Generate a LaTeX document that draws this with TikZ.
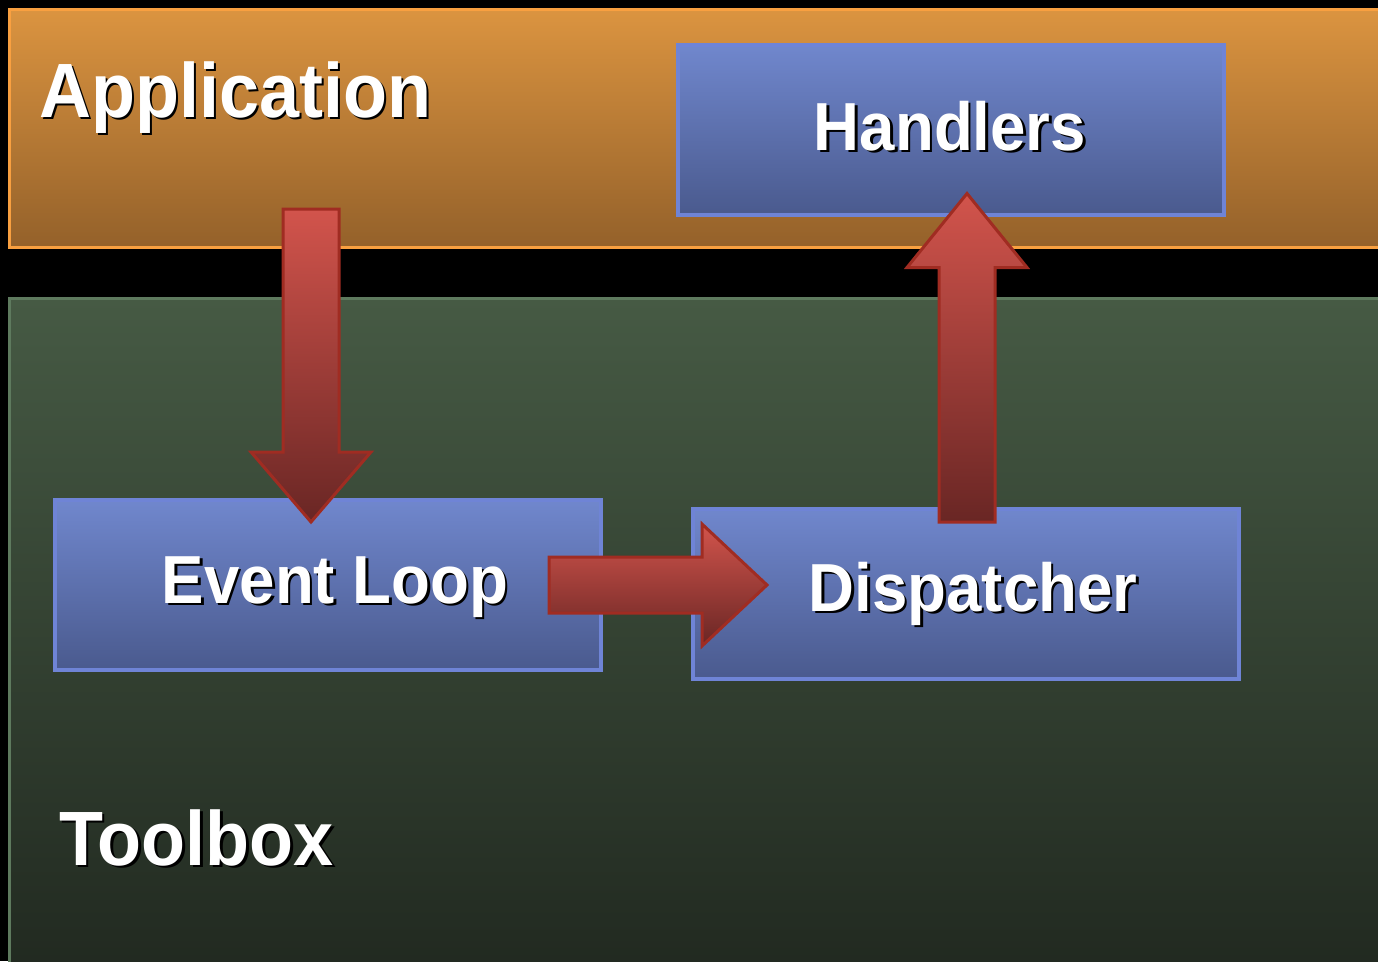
\documentclass[tikz,border=0pt]{standalone}
\usepackage{fontspec}
\newfontfamily\lbl[FakeStretch=0.935]{Liberation Sans}
\usetikzlibrary{calc}
\definecolor{appTop}{HTML}{DB9440}
\definecolor{appBot}{HTML}{94612A}
\definecolor{appLine}{HTML}{F9A040}
\definecolor{tbTop}{HTML}{465A44}
\definecolor{tbBot}{HTML}{212920}
\definecolor{tbLine}{HTML}{5E7A5E}
\definecolor{bxTop}{HTML}{7087CD}
\definecolor{bxBot}{HTML}{4A5A8E}
\definecolor{bxLine}{HTML}{6F84D6}
\definecolor{arTop}{HTML}{D2544C}
\definecolor{arBot}{HTML}{692624}
\definecolor{arLine}{HTML}{A02C22}
\tikzset{
  bluebox/.style={draw=bxLine, line width=4pt, top color=bxTop, bottom color=bxBot,
    minimum width=546pt, minimum height=170pt, inner sep=0pt},
  blockarrow/.style={draw=arLine, line width=3pt, line join=miter, top color=arTop, bottom color=arBot},
  lbltext/.style={font=\lbl\bfseries\fontsize{68}{70}\selectfont, inner sep=0pt},
  bigtext/.style={font=\lbl\bfseries\fontsize{77}{80}\selectfont, inner sep=0pt},
}
\newcommand{\shadowtext}[4]{% style, anchor, position, text
  \node[#1, anchor=#2, text=black] at ($#3+(2.5,2.5)$) {#4};
  \node[#1, anchor=#2, text=white] at #3 {#4};
}
\begin{document}
\begin{tikzpicture}[x=1pt,y=-1pt]
\useasboundingbox (0,0) rectangle (1378,961);
\clip (0,0) rectangle (1378,961);
\fill[black] (0,0) rectangle (1378,961);
% layers
\path[draw=appLine, line width=3pt, top color=appTop, bottom color=appBot] (9.5,9.5) rectangle (1390,247.5);
\path[draw=tbLine, line width=3pt, top color=tbTop, bottom color=tbBot] (9.5,298.5) rectangle (1390,975);
\shadowtext{bigtext}{base west}{(39,117)}{Application}
\shadowtext{bigtext}{base west}{(59,865)}{Toolbox}
% boxes
\node[bluebox] (hand) at (950.5,129.5) {};
\node[bluebox] (evt) at (328,585) {};
\node[bluebox] (disp) at (966,593.5) {};
\shadowtext{lbltext}{base}{(950,150)}{Handlers}
\shadowtext{lbltext}{base}{(335,603)}{Event Loop}
\shadowtext{lbltext}{base}{(973,611)}{Dispatcher}
% arrow end points
\coordinate (a1s) at (311,209);
\coordinate (a1e) at (evt.north -| a1s);
\coordinate (a2s) at (549,585);
\coordinate (a2e) at (767,585);
\coordinate (a3s) at (967,522);
\coordinate (a3e) at (hand.south -| a3s);
% down arrow: Application -> Event Loop
\path[blockarrow] ($(a1s)+(-28,0)$) -- ($(a1s)+(28,0)$) -- ($(a1e)+(28,-46)$) -- ($(a1e)+(60,-46)$)
  -- ($(a1e)+(0,24)$) -- ($(a1e)+(-60,-46)$) -- ($(a1e)+(-28,-46)$) -- cycle;
% right arrow: Event Loop -> Dispatcher
\path[blockarrow] ($(a2s)+(0,-28)$) -- ($(a2e)+(-65,-28)$) -- ($(a2e)+(-65,-61)$) -- (a2e)
  -- ($(a2e)+(-65,61)$) -- ($(a2e)+(-65,28)$) -- ($(a2s)+(0,28)$) -- cycle;
% up arrow: Dispatcher -> Handlers
\path[blockarrow] ($(a3s)+(-28,0)$) -- ($(a3s)+(28,0)$) -- ($(a3e)+(28,51)$) -- ($(a3e)+(60,51)$)
  -- ($(a3e)+(0,-23)$) -- ($(a3e)+(-60,51)$) -- ($(a3e)+(-28,51)$) -- cycle;
\end{tikzpicture}
\end{document}
